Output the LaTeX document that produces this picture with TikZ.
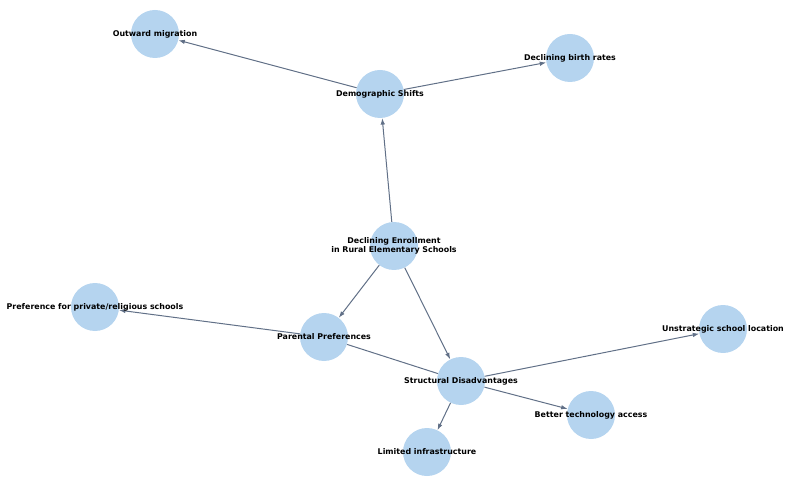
\documentclass[tikz,border=0pt]{standalone}
\usepackage{fontspec}
\setmainfont{DejaVu Sans}
\usetikzlibrary{arrows.meta}
\definecolor{nodefill}{HTML}{B5D4EF}
\definecolor{edgecol}{HTML}{617087}
\begin{document}
\begin{tikzpicture}[x=1pt,y=-1pt,
  circ/.style={circle,fill=nodefill,draw=none,minimum size=48pt,inner sep=0pt},
  lab/.style={font=\fontsize{7.9}{9.2}\selectfont\bfseries,align=center,inner sep=0pt},
  edge/.style={draw=edgecol,line width=1pt,-{Latex[length=6.5pt,width=4.5pt]}},
  plain/.style={draw=edgecol,line width=1pt}]
\useasboundingbox (0,0) rectangle (792,486);
\node[circ] (out) at (155,34) {};
\node[circ] (birth) at (570,58) {};
\node[circ] (dem) at (380,94) {};
\node[circ] (decl) at (394,246) {};
\node[circ] (pref) at (95,307) {};
\node[circ] (par) at (324,337) {};
\node[circ] (unstr) at (723,329) {};
\node[circ] (struct) at (461,381) {};
\node[circ] (better) at (591,415) {};
\node[circ] (lim) at (427,452) {};
\draw[edge] (dem) -- (out);
\draw[edge] (dem) -- (birth);
\draw[edge] (decl) -- (dem);
\draw[edge] (decl) -- (par);
\draw[edge] (decl) -- (struct);
\draw[edge] (par) -- (pref);
\draw[plain] (par) -- (struct);
\draw[edge] (struct) -- (unstr);
\draw[edge] (struct) -- (better);
\draw[edge] (struct) -- (lim);
\node[lab] (tout) at (out) {Outward migration};
\node[lab] (tbirth) at (birth) {Declining birth rates};
\node[lab] (tdem) at (dem) {Demographic Shifts};
\node[lab] (tdecl) at (decl) {Declining Enrollment\\in Rural Elementary Schools};
\node[lab] (tpref) at (pref) {Preference for private/religious schools};
\node[lab] (tpar) at (par) {Parental Preferences};
\node[lab] (tunstr) at (unstr) {Unstrategic school location};
\node[lab] (tstruct) at (struct) {Structural Disadvantages};
\node[lab] (tbetter) at (better) {Better technology access};
\node[lab] (tlim) at (lim) {Limited infrastructure};
\end{tikzpicture}
\end{document}
